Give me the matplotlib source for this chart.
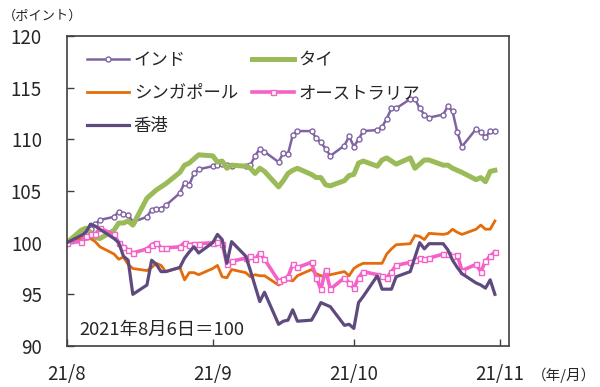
import matplotlib
matplotlib.use("Agg")
import matplotlib.pyplot as plt
import pandas as pd

plt.rcParams['font.family'] = ['Noto Sans CJK JP', 'DejaVu Sans']

# business days, 2021-08-06 .. 2021-11-05 (index, 2021/8/6 = 100)
dates = pd.bdate_range("2021-08-06", "2021-11-05")

india = [100.0,
         100.5, 101.0, 101.3, 101.8, 102.2,
         102.5, 103.0, 102.8, 102.7, 102.0,
         102.5, 103.2, 103.3, 103.3, 103.6,
         104.8, 105.8, 105.6, 106.7, 107.1,
         107.4, 107.5, 107.6, 107.5, 107.4,
         107.4, 107.5, 108.4, 109.1, 108.8,
         107.8, 108.7, 108.6, 110.4, 110.8,
         110.8, 110.1, 109.7, 109.1, 108.4,
         109.4, 110.3, 109.3, 110.0, 110.8,
         110.9, 111.2, 112.0, 113.0, 113.0,
         113.9, 113.9, 113.0, 112.4, 112.1,
         112.4, 113.2, 112.7, 110.7, 109.3,
         111.0, 110.7, 110.2, 110.8, 110.8]

thai = [100.0,
        101.2, 101.4, 101.0, 100.5, 100.4,
        101.2, 101.9, 101.9, 102.1, 101.7,
        104.3, 104.7, 105.1, 105.4, 105.7,
        106.8, 107.5, 107.7, 108.1, 108.5,
        108.4, 107.8, 107.9, 107.2, 107.5,
        107.4, 107.2, 106.7, 107.2, 106.9,
        105.4, 106.0, 106.7, 107.0, 107.2,
        106.6, 106.3, 106.3, 105.6, 105.5,
        106.0, 106.5, 106.6, 107.7, 107.9,
        107.4, 108.0, 108.2, 107.9, 107.6,
        108.2, 107.2, 107.6, 108.0, 108.0,
        107.5, 107.5, 107.2, 107.0, 106.8,
        106.1, 106.3, 105.9, 106.9, 107.0]

singapore = [100.0,
             100.4, 100.3, 100.4, 100.1, 99.6,
             98.9, 98.4, 98.6, 97.9, 97.5,
             97.3, 97.6, 98.0, 97.8, 97.2,
             97.6, 96.4, 97.1, 97.1, 96.9,
             97.5, 97.8, 96.7, 96.6, 97.4,
             97.1, 96.7, 96.9, 96.8, 96.8,
             95.9, 96.2, 96.4, 96.3, 96.8,
             97.4, 97.0, 96.8, 96.7, 96.9,
             97.2, 96.8, 97.5, 97.8, 98.0,
             98.0, 98.0, 98.9, 99.4, 99.8,
             99.9, 100.7, 100.6, 100.3, 100.9,
             100.8, 100.9, 101.3, 101.0, 100.8,
             101.3, 101.7, 101.3, 101.3, 102.1]

australia = [100.0,
             100.1, 100.6, 100.8, 100.8, 101.4,
             100.8, 100.0, 99.6, 99.3, 99.0,
             99.4, 99.8, 100.0, 99.5, 99.5,
             99.6, 100.0, 99.8, 99.9, 99.9,
             100.0, 100.1, 99.9, 97.9, 98.2,
             98.5, 98.7, 98.4, 99.0, 98.4,
             96.3, 96.5, 96.7, 97.9, 97.6,
             98.1, 96.6, 95.5, 97.4, 95.5,
             96.6, 96.1, 95.6, 96.6, 97.2,
             96.9, 96.8, 96.6, 97.2, 97.8,
             98.1, 98.3, 98.5, 98.4, 98.5,
             98.9, 98.9, 98.7, 98.8, 97.3,
             97.9, 97.2, 98.2, 98.7, 99.1]

hong_kong = [100.0,
             100.7, 101.0, 101.8, 101.6, 101.3,
             100.4, 100.0, 98.7, 98.3, 95.0,
             95.9, 98.3, 97.9, 97.2, 97.2,
             97.6, 98.5, 99.1, 99.6, 99.0,
             100.0, 100.8, 100.3, 98.0, 100.1,
             98.7, 97.3, 95.8, 94.3, 95.2,
             92.1, 92.4, 92.5, 93.5, 92.4,
             92.5, 93.3, 94.2, 94.0, 93.8,
             92.0, 92.1, 91.7, 94.2, 94.8,
             96.8, 95.5, 95.5, 95.5, 96.7,
             97.2, 98.6, 100.0, 99.4, 99.9,
             99.9, 99.3, 98.3, 97.6, 97.0,
             96.1, 95.9, 95.6, 96.4, 95.0]

tick_dates = ["2021-08-06", "2021-09-06", "2021-10-06", "2021-11-06"]
tick_labels = ["21/8", "21/9", "21/10", "21/11"]

TXT = '#262626'
EDGE = '#404040'

fig = plt.figure(figsize=(6.0, 3.87), dpi=100)
ax = fig.add_axes([67 / 600, 1 - 346 / 387, 442 / 600, 310 / 387])

h_in, = ax.plot(dates, india, color='#8064A2', lw=1.8, marker='o', ms=3.6,
                mfc='white', mec='#8064A2', mew=1.0, label='インド')
h_th, = ax.plot(dates, thai, color='#9BBB59', lw=3.6, label='タイ')
h_sg, = ax.plot(dates, singapore, color='#E46C0A', lw=2.0, label='シンガポール')
h_au, = ax.plot(dates, australia, color='#F462C8', lw=2.6, marker='s', ms=3.6,
                mfc='white', mec='#F462C8', mew=1.0, label='オーストラリア')
h_hk, = ax.plot(dates, hong_kong, color='#5F4A7F', lw=2.3, label='香港')

start = pd.Timestamp("2021-08-06")
ax.set_xlim(start, start + pd.Timedelta(days=94))
ax.set_ylim(90, 120)
ax.set_yticks(range(90, 121, 5))
ax.set_xticks(pd.to_datetime(tick_dates))
ax.set_xticklabels(tick_labels)

ax.tick_params(axis='both', direction='in', length=5, width=1.0, color=EDGE,
               labelsize=13.5, labelcolor=TXT)
ax.tick_params(axis='x', pad=13)
ax.tick_params(axis='y', pad=18)
for s in ax.spines.values():
    s.set_color(EDGE)
    s.set_linewidth(1.2)

ax.legend(handles=[h_in, h_sg, h_hk, h_th, h_au], ncol=2, loc='upper left',
          bbox_to_anchor=(0.045, 0.95), frameon=False, fontsize=12.5,
          handlelength=2.4, handletextpad=0.3, labelspacing=0.85,
          columnspacing=0.8, borderpad=0, borderaxespad=0, labelcolor=TXT)

ax.text(0.027, 0.052, '2021年8月6日＝100', transform=ax.transAxes,
        fontsize=13.2, color=TXT, va='center', ha='left')
fig.text(3 / 600, 1 - 16 / 387, '（ポイント）', fontsize=9.5, color=TXT,
         va='center', ha='left')
fig.text(596 / 600, 1 - 375 / 387, '（年/月）', fontsize=10.5, color=TXT,
         va='center', ha='right')

fig.savefig('out.png', dpi=100)
